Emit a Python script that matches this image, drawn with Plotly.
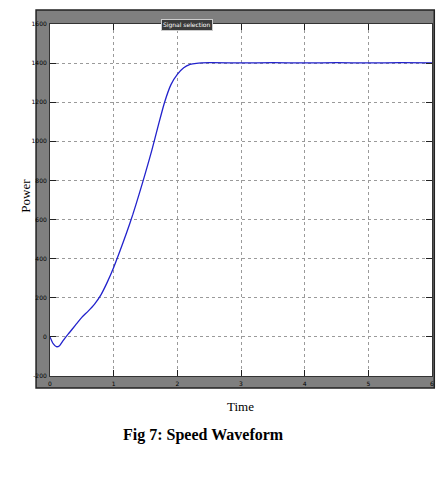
import plotly.graph_objects as go

# Data
time = [0, 0.05, 0.1, 0.15, 0.2, 0.25, 0.3, 0.4, 0.5, 0.6, 0.7, 0.8, 0.9, 1.0,
        1.1, 1.2, 1.3, 1.4, 1.5, 1.6, 1.7, 1.8, 1.9, 2.0, 2.1, 2.2, 2.3, 2.5,
        3.0, 3.5, 4.0, 4.5, 5.0, 5.5, 6.0]
power = [0, -35, -50, -45, -22, 0, 20, 60, 100, 132, 168, 215, 280, 355,
         440, 530, 625, 730, 840, 955, 1080, 1200, 1290, 1342, 1376, 1393, 1399, 1402,
         1401, 1402, 1401, 1402, 1401, 1402, 1401]

x_ticks = [0, 1, 2, 3, 4, 5, 6]
y_ticks = [-200, 0, 200, 400, 600, 800, 1000, 1200, 1400, 1600]

fig = go.Figure()
fig.add_trace(go.Scatter(
    x=time, y=power, mode="lines",
    line=dict(color="#2222cc", width=1.3, shape="spline", smoothing=0.6),
    hoverinfo="skip", showlegend=False,
))

axis_common = dict(
    showgrid=True, gridcolor="#9a9a9a", griddash="dot", gridwidth=1,
    zeroline=False, showline=True, linecolor="#333333", linewidth=1, mirror="ticks",
    ticks="inside", ticklen=6, tickcolor="#222222",
    tickfont=dict(family="DejaVu Sans", size=6, color="#000000"),
)

fig.update_layout(
    width=442, height=484,
    margin=dict(l=50, r=8, t=24, b=108),
    paper_bgcolor="white", plot_bgcolor="rgba(0,0,0,0)",
    xaxis=dict(range=[0, 6], tickvals=x_ticks, ticktext=[str(v) for v in x_ticks],
               ticklabelstandoff=2, **axis_common),
    yaxis=dict(range=[-200, 1600], tickvals=y_ticks, ticktext=[str(v) for v in y_ticks],
               ticklabelstandoff=1, **axis_common),
    shapes=[
        dict(type="rect", xref="paper", yref="paper", layer="below",
             x0=-0.0365, x1=1.006, y0=-0.034, y1=1.0398,
             fillcolor="#7f7f7f", line=dict(color="#222222", width=1.5)),
        dict(type="rect", xref="paper", yref="paper", layer="below",
             x0=0, x1=1, y0=0, y1=1,
             fillcolor="white", line=dict(width=0)),
    ],
    annotations=[
        dict(text="Signal selection", xref="paper", yref="paper", x=0.359, y=1.014,
             showarrow=False, font=dict(family="DejaVu Sans", size=6, color="white"),
             bgcolor="#3a3a3a", bordercolor="#cccccc", borderwidth=1, borderpad=1),
        dict(text="Power", xref="paper", yref="paper", x=(15 - 50) / 384, y=(376 - 196) / 352,
             textangle=-90, showarrow=False,
             font=dict(family="Liberation Serif", size=13, color="black")),
        dict(text="Time", xref="paper", yref="paper", x=(241 - 50) / 384, y=(376 - 416) / 352,
             showarrow=False, font=dict(family="Liberation Serif", size=13, color="black")),
        dict(text="<b>Fig 7: Speed Waveform</b>", xref="paper", yref="paper",
             x=(204 - 50) / 384, y=(376 - 446) / 352,
             showarrow=False, font=dict(family="Liberation Serif", size=16, color="black")),
    ],
)

fig.write_html("out.html")
